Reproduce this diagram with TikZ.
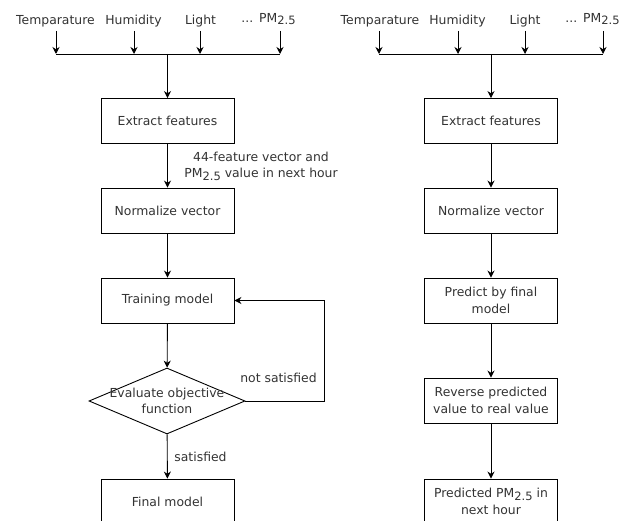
\documentclass[tikz,border=0pt]{standalone}
\usepackage{fontspec}
\setmainfont{DejaVu Sans}
\usetikzlibrary{shapes.geometric,arrows.meta}
\newcommand\pmtwofive{PM\raisebox{-0.35ex}{\fontsize{11.5}{11.5}\selectfont 2.5}}
\tikzset{
  box/.style={draw, line width=0.9pt, minimum width=133, minimum height=45, inner sep=0, align=center, text=black!80, font=\fontsize{12.4}{16.5}\selectfont},
  txt/.style={inner sep=0, align=center, text=black!80, font=\fontsize{12.4}{16.5}\selectfont},
  arr/.style={line width=0.9pt, -{Stealth[length=7pt,width=7pt]}},
  ln/.style={line width=0.9pt}
}
\begin{document}
\begin{tikzpicture}[x=1pt,y=-1pt]
\clip (0,0) rectangle (632,521);
\useasboundingbox (0,0) rectangle (632,521);
% ---------- left ----------
\node[txt] (lt) at (55.5,21) {Temparature};
\node[txt] (lh) at (133.5,21) {Humidity};
\node[txt] (ll) at (200.5,21) {Light};
\node[txt,anchor=east] (ld) at (253.5,22) {...};
\node[txt,anchor=west] (lp) at (259,19) {\pmtwofive};
\coordinate (lbt) at (56,54);
\coordinate (lbh) at (134,54);
\coordinate (lbl) at (200,54);
\coordinate (lbp) at (280,54);
\coordinate (lbc) at (167.5,54);
\draw[arr] (56,31) -- (lbt);
\draw[arr] (134,31) -- (lbh);
\draw[arr] (200,31) -- (lbl);
\draw[arr] (280,31) -- (lbp);
\draw[ln] (lbt) -- (lbp);
\node[box] (lext) at (167.5,121) {Extract features};
\node[box] (lnorm) at (167.5,210.5) {Normalize vector};
\node[box] (ltrain) at (167.5,300.5) {Training model};
\node[draw, line width=0.9pt, diamond, minimum width=156, minimum height=66, inner sep=0,
      label={[txt]center:Evaluate objective\\function}] (leval) at (167,401) {};
\node[box] (lfinal) at (167.5,501.5) {Final model};
\draw[arr] (lbc) -- (lext);
\draw[arr] (lext) -- (lnorm);
\node[txt] (lab44) at (261,166) {44-feature vector and\\\pmtwofive{} value in next hour};
\draw[arr] (lnorm) -- (ltrain);
\draw[arr] (ltrain) -- (leval);
\draw[arr] (leval) -- (lfinal);
\node[txt] (lsat) at (200.5,457) {satisfied};
\coordinate (lfb1) at (324,401);
\coordinate (lfb2) at (324,300.5);
\draw[arr] (leval.east) -- (lfb1) -- (lfb2) -- (ltrain.east);
\node[txt] (lns) at (278.5,378) {not satisfied};
% ---------- right ----------
\node[txt] (rt) at (380,21) {Temparature};
\node[txt] (rh) at (457.5,21) {Humidity};
\node[txt] (rl) at (525,21) {Light};
\node[txt,anchor=east] (rd) at (577.5,22) {...};
\node[txt,anchor=west] (rp) at (583,19) {\pmtwofive};
\coordinate (rbt) at (379,54);
\coordinate (rbh) at (458,54);
\coordinate (rbl) at (525,54);
\coordinate (rbp) at (603,54);
\coordinate (rbc) at (491,54);
\draw[arr] (379,31) -- (rbt);
\draw[arr] (458,31) -- (rbh);
\draw[arr] (525,31) -- (rbl);
\draw[arr] (603,31) -- (rbp);
\draw[ln] (rbt) -- (rbp);
\node[box] (rext) at (491,121) {Extract features};
\node[box] (rnorm) at (491,210.5) {Normalize vector};
\node[box] (rpred) at (491,300.5) {Predict by final\\model};
\node[box] (rrev) at (491,400.5) {Reverse predicted\\value to real value};
\node[box] (rout) at (491,501.5) {Predicted \pmtwofive{} in\\next hour};
\draw[arr] (rbc) -- (rext);
\draw[arr] (rext) -- (rnorm);
\draw[arr] (rnorm) -- (rpred);
\draw[arr] (rpred) -- (rrev);
\draw[arr] (rrev) -- (rout);
\end{tikzpicture}
\end{document}
